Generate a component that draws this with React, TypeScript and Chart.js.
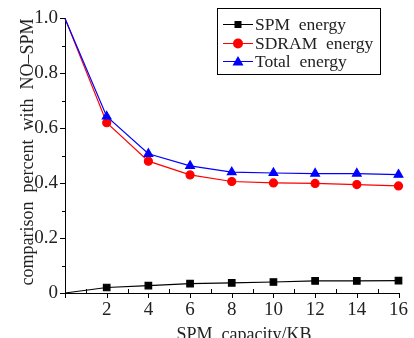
import React, { useEffect, useRef } from "react";
import { Chart, registerables } from "chart.js";

Chart.register(...registerables);

const capacityKB = [0, 2, 4, 6, 8, 10, 12, 14, 16];
const spmEnergy = [0, 0.02, 0.027, 0.034, 0.037, 0.04, 0.044, 0.044, 0.045];
const sdramEnergy = [1.0, 0.62, 0.48, 0.43, 0.406, 0.401, 0.399, 0.395, 0.39];
const totalEnergy = [1.0, 0.643, 0.507, 0.463, 0.44, 0.437, 0.435, 0.435, 0.431];
const seriesLabels = ["SPM  energy", "SDRAM  energy", "Total  energy"];
const xTickValues = [2, 4, 6, 8, 10, 12, 14, 16];
const yTickLabels = ["0", "0.2", "0.4", "0.6", "0.8", "1.0"];
const xTitle = "SPM  capacity/KB";
const yTitle = "comparison  percent  with  NO–SPM";

const FONT = "'Liberation Serif', 'DejaVu Serif', serif";

const decorPlugin = {
  id: "decor",
  afterDraw(chart: any) {
    const ctx = chart.ctx as CanvasRenderingContext2D;
    const xs = chart.scales.x;
    const ys = chart.scales.y;
    const area = chart.chartArea;
    ctx.save();
    ctx.strokeStyle = "#000";
    ctx.lineWidth = 1;
    // axis ticks
    ctx.beginPath();
    for (let i = 0; i <= 16; i++) {
      const px = Math.round(xs.getPixelForValue(i)) + 0.5;
      if (i % 2 === 0) {
        ctx.moveTo(px, area.bottom);
        ctx.lineTo(px, area.bottom + 5);
      } else {
        ctx.moveTo(px, area.bottom);
        ctx.lineTo(px, area.bottom - 4);
      }
    }
    for (let i = 0; i <= 10; i++) {
      const py = Math.round(ys.getPixelForValue(i / 10)) + 0.5;
      if (i % 2 === 0) {
        ctx.moveTo(area.left - 5, py);
        ctx.lineTo(area.left, py);
      } else {
        ctx.moveTo(area.left - 3, py);
        ctx.lineTo(area.left, py);
      }
    }
    ctx.stroke();

    // axis titles
    ctx.fillStyle = "#222";
    ctx.font = `18px ${FONT}`;
    ctx.textAlign = "center";
    ctx.textBaseline = "alphabetic";
    ctx.fillText(xTitle, 244, 340);
    ctx.save();
    ctx.translate(33, 152);
    ctx.rotate(-Math.PI / 2);
    ctx.fillText(yTitle, 0, 0);
    ctx.restore();

    // legend
    const bx = 217.5, by = 8.5, bw = 163, bh = 66;
    ctx.fillStyle = "#fff";
    ctx.fillRect(bx, by, bw, bh);
    ctx.strokeStyle = "#000";
    ctx.lineWidth = 1;
    ctx.strokeRect(bx, by, bw, bh);
    const rowsY = [24, 43, 61];
    chart.data.datasets.forEach((ds: any, i: number) => {
      const y = rowsY[i];
      ctx.strokeStyle = ds.borderColor;
      ctx.lineWidth = 1;
      ctx.beginPath();
      ctx.moveTo(223, y + 0.5);
      ctx.lineTo(253, y + 0.5);
      ctx.stroke();
      ctx.fillStyle = ds.backgroundColor;
      const mx = 238, my = y + 0.5;
      if (ds.pointStyle === "rect") {
        ctx.fillRect(mx - 3.5, my - 3.5, 7, 7);
      } else if (ds.pointStyle === "circle") {
        ctx.beginPath();
        ctx.arc(mx, my, 5, 0, Math.PI * 2);
        ctx.fill();
      } else {
        ctx.beginPath();
        ctx.moveTo(mx, my - 5.5);
        ctx.lineTo(mx + 5.5, my + 4);
        ctx.lineTo(mx - 5.5, my + 4);
        ctx.closePath();
        ctx.fill();
      }
      ctx.fillStyle = "#222";
      ctx.font = `17.5px ${FONT}`;
      ctx.textAlign = "left";
      ctx.textBaseline = "middle";
      ctx.fillText(seriesLabels[i], 255, y + 1);
    });
    ctx.restore();
  },
};

export default function App() {
  const ref = useRef<HTMLCanvasElement>(null);
  useEffect(() => {
    if (!ref.current) return;
    const mk = (vals: number[]) => capacityKB.map((x, i) => ({ x, y: vals[i] }));
    const radii = (r: number) => capacityKB.map((x) => (x === 0 ? 0 : r));
    const chart = new Chart(ref.current, {
      type: "line",
      data: {
        datasets: [
          {
            label: seriesLabels[0],
            data: mk(spmEnergy),
            borderColor: "#000000",
            backgroundColor: "#000000",
            pointStyle: "rect",
            pointRadius: radii(4.6),
            borderWidth: 1.2,
            order: 2,
            clip: false,
          },
          {
            label: seriesLabels[1],
            data: mk(sdramEnergy),
            borderColor: "#ff0000",
            backgroundColor: "#ff0000",
            pointStyle: "circle",
            pointRadius: radii(4),
            borderWidth: 1.2,
            order: 1,
            clip: false,
          },
          {
            label: seriesLabels[2],
            data: mk(totalEnergy),
            borderColor: "#0000ff",
            backgroundColor: "#0000ff",
            pointStyle: "triangle",
            pointRadius: radii(5),
            borderWidth: 1.2,
            order: 0,
            clip: false,
          },
        ] as any,
      },
      options: {
        animation: false,
        responsive: false,
        events: [],
        layout: { padding: { left: 0, top: 13, right: 15, bottom: 0 } },
        plugins: { legend: { display: false }, tooltip: { enabled: false } },
        scales: {
          x: {
            type: "linear",
            min: 0,
            max: 16,
            afterFit: (s: any) => { s.height = 45; },
            afterBuildTicks: (s: any) => { s.ticks = xTickValues.map((v) => ({ value: v })); },
            grid: { display: false, drawTicks: false },
            border: { display: true, color: "#000", width: 1 },
            ticks: {
              color: "#222",
              font: { family: FONT, size: 19 },
              padding: 6,
              maxRotation: 0,
              autoSkip: false,
              callback: (v: any) => String(v),
            },
          },
          y: {
            type: "linear",
            min: 0,
            max: 1,
            afterFit: (s: any) => { s.width = 65; },
            afterBuildTicks: (s: any) => { s.ticks = yTickLabels.map((_, i) => ({ value: i * 0.2 })); },
            grid: { display: false, drawTicks: false },
            border: { display: true, color: "#000", width: 1 },
            ticks: {
              color: "#222",
              font: { family: FONT, size: 19 },
              padding: 7,
              autoSkip: false,
              callback: (_v: any, i: number) => yTickLabels[i],
            },
          },
        },
      },
      plugins: [decorPlugin],
    } as any);
    return () => chart.destroy();
  }, []);
  return (
    <div style={{ position: "absolute", left: 0, top: 0, width: 414, height: 338, background: "#fff" }}>
      <canvas ref={ref} width={414} height={338} style={{ display: "block", width: 414, height: 338 }} />
    </div>
  );
}
